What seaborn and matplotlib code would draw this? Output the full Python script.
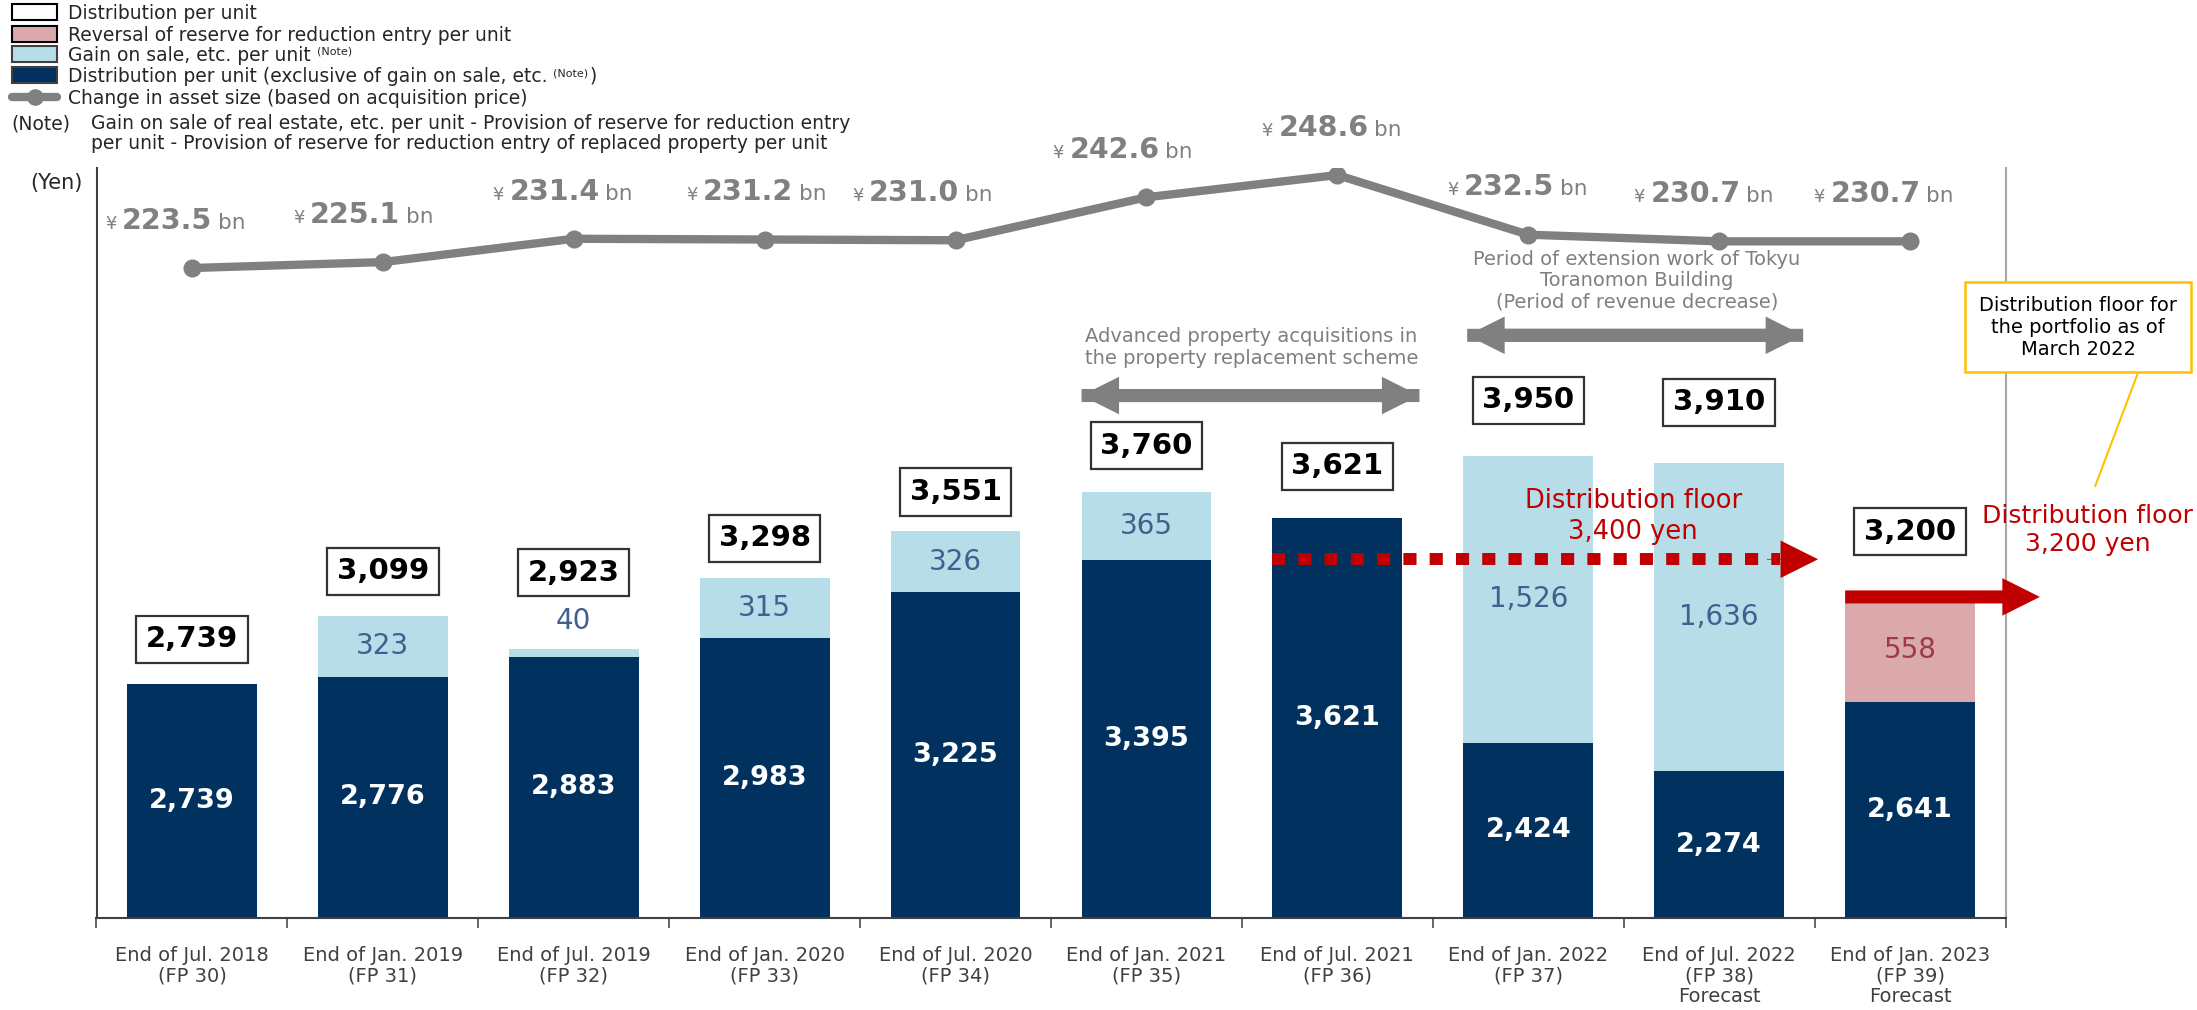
import numpy as np
import pandas as pd
import matplotlib
matplotlib.use("Agg")
import matplotlib.pyplot as plt
from matplotlib.patches import Rectangle
from matplotlib.lines import Line2D
from matplotlib.offsetbox import TextArea, HPacker, AnnotationBbox
import seaborn as sns

# ---- data -------------------------------------------------------------
periods = [
    "End of Jul. 2018\n(FP 30)", "End of Jan. 2019\n(FP 31)", "End of Jul. 2019\n(FP 32)",
    "End of Jan. 2020\n(FP 33)", "End of Jul. 2020\n(FP 34)", "End of Jan. 2021\n(FP 35)",
    "End of Jul. 2021\n(FP 36)", "End of Jan. 2022\n(FP 37)",
    "End of Jul. 2022\n(FP 38)\nForecast", "End of Jan. 2023\n(FP 39)\nForecast",
]
distribution_per_unit = [2739, 3099, 2923, 3298, 3551, 3760, 3621, 3950, 3910, 3200]
dpu_excl_gain = [2739, 2776, 2883, 2983, 3225, 3395, 3621, 2424, 2274, 2641]
gain_on_sale = [0, 323, 40, 315, 326, 365, 0, 1526, 1636, 0]
reserve_reversal = [0, 0, 0, 0, 0, 0, 0, 0, 0, 558]
asset_size_bn = [223.5, 225.1, 231.4, 231.2, 231.0, 242.6, 248.6, 232.5, 230.7, 230.7]
floor_current = 3400
floor_portfolio = 3200

# ---- styling ----------------------------------------------------------
DARK = "#00315f"
LIGHT = "#b6dde8"
PINK = "#dba9ab"
GRAY = "#808080"
RED = "#c00000"
GOLD = "#ffc000"
TXT = "#262626"

sns.set_theme(style="white")
plt.rcParams["font.family"] = ["DejaVu Sans"]

W, H = 2197, 1010
fig = plt.figure(figsize=(W / 100, H / 100), dpi=100)
ax_left, ax_right, ax_top, ax_bot = 96.5, 2005.5, 168, 918
ax = fig.add_axes([ax_left / W, 1 - ax_bot / H, (ax_right - ax_left) / W, (ax_bot - ax_top) / H])

df = pd.DataFrame({
    "period": periods,
    "total": distribution_per_unit,
    "base": dpu_excl_gain,
    "gain": gain_on_sale,
    "reversal": reserve_reversal,
})
top_colors = {
    p: (LIGHT if g > 0 else PINK if r > 0 else DARK)
    for p, g, r in zip(df["period"], df["gain"], df["reversal"])
}

# stacked bars: full distribution first, base portion drawn over it
sns.barplot(data=df, x="period", y="total", hue="period", palette=top_colors,
            order=periods, hue_order=periods, width=0.68, saturation=1,
            errorbar=None, legend=False, ax=ax, linewidth=0)
sns.barplot(data=df, x="period", y="base", color=DARK, order=periods, width=0.68,
            saturation=1, errorbar=None, ax=ax, linewidth=0)

ylo, yhi = 1494, 5479
ax.set_ylim(ylo, yhi)
ax.set_ylabel("")
ax.set_xlabel("")
ax.set_yticks([])

# asset size line on a secondary scale
ax2 = ax.twinx()
xpos = np.arange(len(periods))
sns.lineplot(x=xpos, y=asset_size_bn, ax=ax2, color=GRAY, lw=6, marker="o",
             markersize=13, markeredgewidth=0)
ax2.set_ylim(48.06, 250.5)
ax2.set_yticks([])
ax2.set_ylabel("")
for s in ax2.spines.values():
    s.set_visible(False)

ax.set_xlim(-0.5, len(periods) - 0.5)
ax.set_xticks(np.arange(-0.5, len(periods), 1))
ax.set_xticklabels([])
ax.set_xticks(xpos, minor=True)
ax.set_xticklabels(periods, minor=True)
ax.tick_params(axis="x", which="major", length=7, width=1.3, color="#595959", direction="out", bottom=True)
ax.tick_params(axis="x", which="minor", length=0, pad=20, labelsize=14, labelcolor="#404040")
for t in ax.get_xticklabels(minor=True):
    t.set_linespacing(1.1)

ax.spines["top"].set_visible(False)
ax.spines["left"].set_color("#404040")
ax.spines["left"].set_linewidth(1.5)
ax.spines["bottom"].set_color("#404040")
ax.spines["bottom"].set_linewidth(1.5)
ax.spines["right"].set_color("#a6a6a6")
ax.spines["right"].set_linewidth(1.5)

# ---- value labels -----------------------------------------------------
total_offsets = [32, 32, 55, 29, 28, 33, 37, 40, 44, 47]
for i, row in df.iterrows():
    base, gain, rev, total = row["base"], row["gain"], row["reversal"], row["total"]
    ax.text(i, (ylo + base) / 2, f"{base:,}", ha="center", va="center",
            color="white", fontsize=19.5, fontweight="bold")
    if gain > 0:
        if gain >= 100:
            ax.text(i, base + gain / 2, f"{gain:,}", ha="center", va="center",
                    color="#41608f", fontsize=20)
        else:
            ax.annotate(f"{gain:,}", xy=(i, base + gain), xytext=(0, 20),
                        textcoords="offset points", ha="center", va="center",
                        color="#41608f", fontsize=20)
    if rev > 0:
        ax.text(i, base + rev / 2, f"{rev:,}", ha="center", va="center",
                color="#9e3a45", fontsize=20)
    ax.annotate(f"{total:,}", xy=(i, total), xytext=(0, total_offsets[i]),
                textcoords="offset points", ha="center", va="center",
                fontsize=21, fontweight="bold", color="black",
                bbox=dict(boxstyle="square,pad=0.33", fc="white", ec="#333333", lw=1.6))

# asset size labels: small yen sign, bold figure, "bn"
label_dx = [-12, -14, -8, -6, -24, -17, -4, -8, -11, -19]
for i, v in enumerate(asset_size_bn):
    pack = HPacker(children=[
        TextArea("¥", textprops=dict(color=GRAY, fontsize=13)),
        TextArea(f"{v:.1f}", textprops=dict(color=GRAY, fontsize=20.5, fontweight="bold")),
        TextArea("bn", textprops=dict(color=GRAY, fontsize=15.5)),
    ], align="baseline", pad=0, sep=4)
    ab = AnnotationBbox(pack, (i, v), xybox=(label_dx[i], 34), boxcoords="offset points",
                        frameon=False, box_alignment=(0.5, 0.5), pad=0)
    ax2.add_artist(ab)

# ---- annotations ------------------------------------------------------
WIDE = "simple,head_length=27,head_width=27,tail_width=9.4"


def double_arrow(x0, x1, y, color):
    for a, b in ((x0, x1), (x1, x0)):
        ax.annotate("", xy=(b, y), xytext=(a, y),
                    arrowprops=dict(arrowstyle=WIDE, mutation_scale=1, color=color,
                                    lw=0, shrinkA=0, shrinkB=0))


double_arrow(4.66, 6.43, 4270, GRAY)
ax.text(5.55, 4525, "Advanced property acquisitions in\nthe property replacement scheme",
        ha="center", va="center", fontsize=14, color="#7f7f7f", linespacing=1.15)

double_arrow(6.68, 8.44, 4590, GRAY)
ax.text(7.57, 4880, "Period of extension work of Tokyu\nToranomon Building\n(Period of revenue decrease)",
        ha="center", va="center", fontsize=14, color="#7f7f7f", linespacing=1.15)

# current distribution floor: dotted arrow
ax.plot([5.66, 8.32], [floor_current, floor_current], color=RED, lw=8.6,
        dashes=(1.1, 1.1), dash_capstyle="butt", solid_capstyle="butt")
ax.annotate("", xy=(8.518, floor_current), xytext=(8.25, floor_current),
            arrowprops=dict(arrowstyle="simple,head_length=27,head_width=27,tail_width=0.5",
                            mutation_scale=1, color=RED, lw=0, shrinkA=0, shrinkB=0))
ax.text(7.55, 3625, f"Distribution floor\n{floor_current:,} yen", ha="center", va="center",
        fontsize=18.5, color=RED, linespacing=1.25)

# portfolio distribution floor: solid arrow
ax.annotate("", xy=(9.68, floor_portfolio), xytext=(8.66, floor_portfolio),
            annotation_clip=False,
            arrowprops=dict(arrowstyle=WIDE, mutation_scale=1, color=RED, lw=0,
                            shrinkA=0, shrinkB=0))
ax.text(9.93, 3556, f"Distribution floor\n{floor_portfolio:,} yen", ha="center", va="center",
        fontsize=18, color=RED, linespacing=1.25, clip_on=False)

ax.annotate("Distribution floor for\nthe portfolio as of\nMarch 2022",
            xy=(9.97, 3789), xytext=(9.88, 4634), textcoords="data",
            ha="center", va="center", fontsize=14, color="black", linespacing=1.2,
            annotation_clip=False, zorder=6,
            bbox=dict(boxstyle="square,pad=0.7", fc="white", ec=GOLD, lw=1.8),
            arrowprops=dict(arrowstyle="-", color=GOLD, lw=1.5, relpos=(0.83, 0),
                            shrinkA=0, shrinkB=0))

# ---- legend and notes -------------------------------------------------
renderer = fig.canvas.get_renderer()
LEG_FS, NOTE_FS = 13.5, 8


def label_run(x, baseline, parts):
    """Write a label as consecutive runs; small runs are raised like a superscript."""
    for text, small, gap in parts:
        x += gap
        t = fig.text(x / W, 1 - (baseline - (6 if small else 0)) / H, text, ha="left",
                     va="baseline", fontsize=NOTE_FS if small else LEG_FS, color=TXT)
        x = t.get_window_extent(renderer).x1


legend_rows = [12, 34, 54, 75, 97]
legend_items = [
    ("patch", "white", "black", [("Distribution per unit", False, 0)]),
    ("patch", PINK, "black", [("Reversal of reserve for reduction entry per unit", False, 0)]),
    ("patch", LIGHT, "#404040", [("Gain on sale, etc. per unit", False, 0), ("(Note)", True, 6)]),
    ("patch", DARK, "#404040", [("Distribution per unit (exclusive of gain on sale, etc.", False, 0),
                                ("(Note)", True, 6), (")", False, 1)]),
    ("line", GRAY, GRAY, [("Change in asset size (based on acquisition price)", False, 0)]),
]
hx0, hx1, hh = 12, 57, 15
for y, (kind, fc, ec, parts) in zip(legend_rows, legend_items):
    if kind == "patch":
        fig.add_artist(Rectangle((hx0 / W, 1 - (y + hh / 2) / H), (hx1 - hx0) / W, hh / H,
                                 transform=fig.transFigure, facecolor=fc, edgecolor=ec, lw=1.5))
    else:
        fig.add_artist(Line2D([hx0 / W, hx1 / W], [1 - y / H, 1 - y / H],
                              transform=fig.transFigure, color=fc, lw=6))
        fig.add_artist(Line2D([(hx0 + hx1) / 2 / W], [1 - y / H], transform=fig.transFigure,
                              color=fc, marker="o", markersize=12, markeredgewidth=0))
    label_run(68, y + 7, parts)

fig.text(11 / W, 1 - 129 / H, "(Note)", ha="left", va="baseline", fontsize=LEG_FS, color=TXT)
fig.text(91 / W, 1 - 129 / H,
         "Gain on sale of real estate, etc. per unit - Provision of reserve for reduction entry",
         ha="left", va="baseline", fontsize=LEG_FS, color=TXT)
fig.text(91 / W, 1 - 149 / H,
         "per unit - Provision of reserve for reduction entry of replaced property per unit",
         ha="left", va="baseline", fontsize=LEG_FS, color=TXT)
fig.text(83 / W, 1 - 183 / H, "(Yen)", ha="right", va="center", fontsize=15, color=TXT)

fig.savefig("out.png", dpi=100)
